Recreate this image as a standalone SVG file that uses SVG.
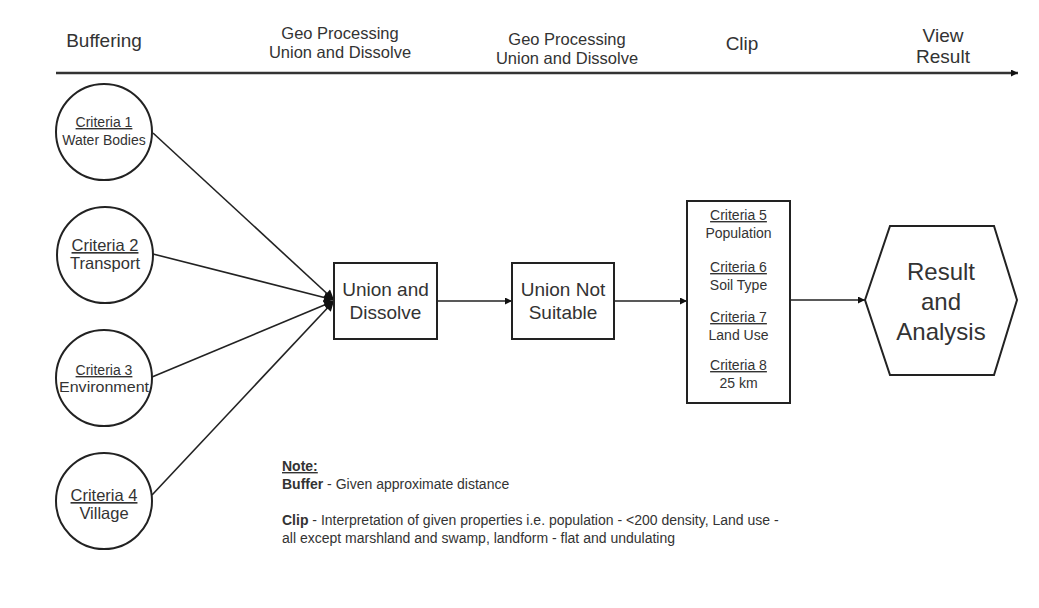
<svg xmlns="http://www.w3.org/2000/svg" width="1039" height="608" viewBox="0 0 1039 608">
<style>
  text { font-family: "Liberation Sans", Arial, sans-serif; fill: #333; text-anchor: middle; }
  .hdr { font-size: 19px; }
  .hdr2 { font-size: 16.5px; }
  .shape { fill: #fff; stroke: #222; stroke-width: 2; }
  .conn { stroke: #222; stroke-width: 1.6; fill: none; }
  .u { text-decoration: underline; }
  .note { font-size: 14px; text-anchor: start; }
  .b { font-weight: bold; }
</style>
<defs>
  <marker id="arr" viewBox="0 0 10 10" refX="10" refY="5" markerWidth="8" markerHeight="7" orient="auto" markerUnits="userSpaceOnUse">
    <path d="M0,0 L10,5 L0,10 z" fill="#111"/>
  </marker>
  <marker id="arrBig" viewBox="0 0 10 10" refX="10" refY="5" markerWidth="11" markerHeight="10" orient="auto" markerUnits="userSpaceOnUse">
    <path d="M0,0 L10,5 L0,10 z" fill="#111"/>
  </marker>
</defs>
<rect width="1039" height="608" fill="#fff"/>

<g id="timeline">
  <text class="hdr" x="104" y="47">Buffering</text>
  <text class="hdr2" x="340" y="39">Geo Processing</text>
  <text class="hdr2" x="340" y="58">Union and Dissolve</text>
  <text class="hdr2" x="567" y="45">Geo Processing</text>
  <text class="hdr2" x="567" y="64">Union and Dissolve</text>
  <text class="hdr" x="742" y="50">Clip</text>
  <text class="hdr" x="943" y="42">View</text>
  <text class="hdr" x="943" y="63">Result</text>
  <line x1="56" y1="73" x2="1018" y2="73" stroke="#333" stroke-width="2.5" marker-end="url(#arr)"/>
</g>

<g id="connectors">
  <line class="conn" x1="153" y1="133" x2="334" y2="300" marker-end="url(#arrBig)"/>
  <line class="conn" x1="153" y1="254" x2="334" y2="300" marker-end="url(#arrBig)"/>
  <line class="conn" x1="152" y1="377" x2="334" y2="301" marker-end="url(#arrBig)"/>
  <line class="conn" x1="152" y1="495" x2="334" y2="301" marker-end="url(#arrBig)"/>
  <line class="conn" x1="437" y1="301" x2="512" y2="301" marker-end="url(#arr)"/>
  <line class="conn" x1="614" y1="301" x2="687" y2="301" marker-end="url(#arr)"/>
  <line class="conn" x1="790" y1="300" x2="865" y2="300" marker-end="url(#arr)"/>
</g>

<g id="criteria1">
  <circle class="shape" cx="104" cy="132" r="48"/>
  <text class="u" x="104" y="127" font-size="14">Criteria 1</text>
  <text x="104" y="145" font-size="14">Water Bodies</text>
</g>
<g id="criteria2">
  <circle class="shape" cx="105" cy="255" r="48"/>
  <text class="u" x="105" y="251" font-size="16.5">Criteria 2</text>
  <text x="105" y="269" font-size="16.5">Transport</text>
</g>
<g id="criteria3">
  <circle class="shape" cx="104" cy="378" r="48"/>
  <text class="u" x="104" y="375" font-size="14">Criteria 3</text>
  <text x="104" y="392" font-size="14" textLength="90" lengthAdjust="spacingAndGlyphs">Environment</text>
</g>
<g id="criteria4">
  <circle class="shape" cx="104" cy="501" r="48"/>
  <text class="u" x="104" y="501" font-size="16.5">Criteria 4</text>
  <text x="104" y="519" font-size="16.5">Village</text>
</g>

<g id="union-dissolve">
  <rect class="shape" x="334" y="263" width="103" height="76"/>
  <text x="385.5" y="296" font-size="19">Union and</text>
  <text x="385.5" y="319" font-size="19">Dissolve</text>
</g>

<g id="union-not-suitable">
  <rect class="shape" x="512" y="263" width="102" height="76"/>
  <text x="563" y="296" font-size="19">Union Not</text>
  <text x="563" y="319" font-size="19">Suitable</text>
</g>

<g id="criteria5-8">
  <rect class="shape" x="687" y="201" width="103" height="202"/>
  <text class="u" x="738.5" y="220" font-size="14">Criteria 5</text>
  <text x="738.5" y="238" font-size="14">Population</text>
  <text class="u" x="738.5" y="272" font-size="14">Criteria 6</text>
  <text x="738.5" y="290" font-size="14">Soil Type</text>
  <text class="u" x="738.5" y="322" font-size="14">Criteria 7</text>
  <text x="738.5" y="340" font-size="14">Land Use</text>
  <text class="u" x="738.5" y="370" font-size="14">Criteria 8</text>
  <text x="738.5" y="388" font-size="14">25 km</text>
</g>

<g id="result">
  <polygon class="shape" points="865,300 890,226 994,226 1017,300 994,375 890,375"/>
  <text x="941" y="280" font-size="24">Result</text>
  <text x="941" y="310" font-size="24">and</text>
  <text x="941" y="340" font-size="24">Analysis</text>
</g>

<g id="notes">
  <text class="note b u" x="282" y="471">Note:</text>
  <text class="note" x="282" y="489"><tspan class="b">Buffer</tspan> - Given approximate distance</text>
  <text class="note" x="282" y="525"><tspan class="b">Clip</tspan> - Interpretation of given properties i.e. population - &lt;200 density, Land use -</text>
  <text class="note" x="282" y="543">all except marshland and swamp, landform - flat and undulating</text>
</g>
</svg>
